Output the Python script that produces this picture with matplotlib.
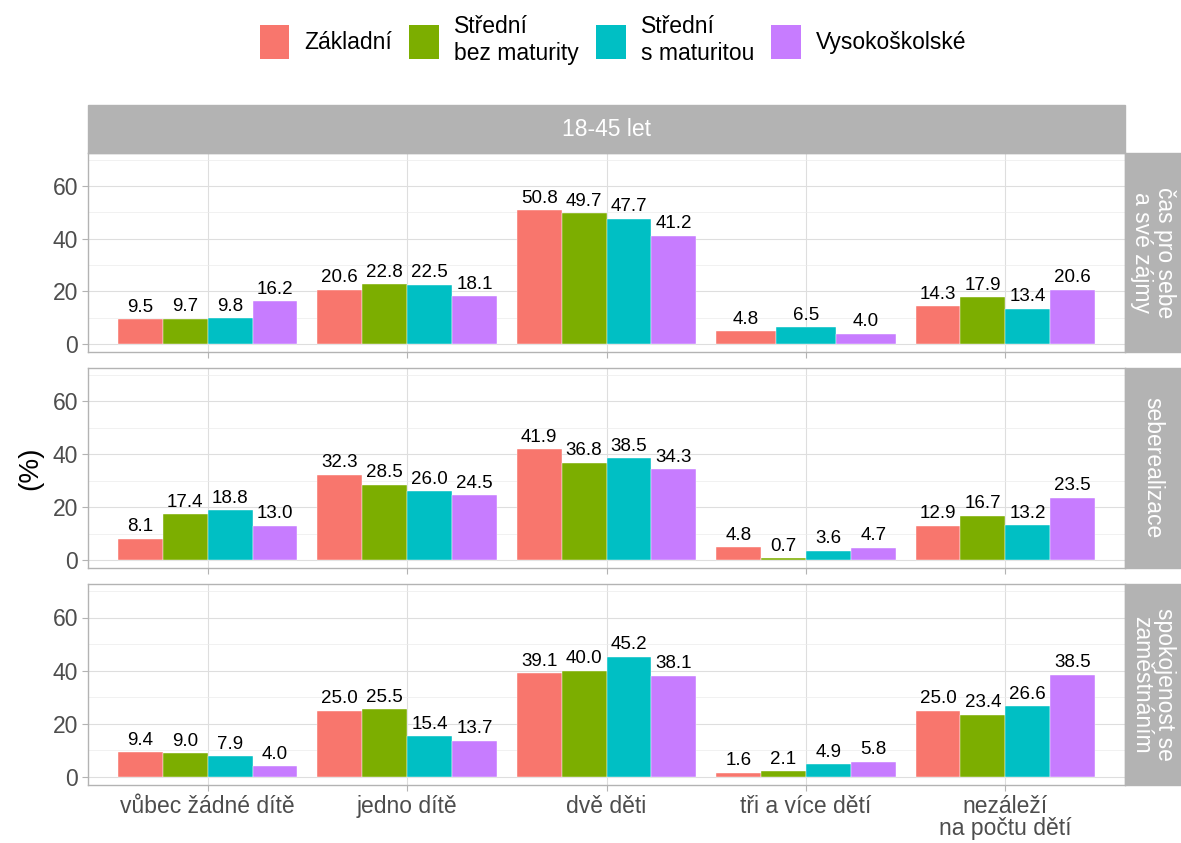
import numpy as np
import matplotlib.pyplot as plt
from matplotlib.patches import Patch, Rectangle

plt.rcParams['font.family'] = ['Liberation Sans', 'DejaVu Sans']

# === data ===
categories = ['vůbec žádné dítě', 'jedno dítě', 'dvě děti', 'tři a více dětí', 'nezáleží\nna počtu dětí']
education = ['Základní', 'Střední\nbez maturity', 'Střední\ns maturitou', 'Vysokoškolské']
colors = ['#F8766D', '#7CAE00', '#00BFC4', '#C77CFF']
facets = ['čas pro sebe\na své zájmy', 'seberealizace', 'spokojenost se\nzaměstnáním']

cas_pro_sebe = [
    [9.5, 9.7, 9.8, 16.2],
    [20.6, 22.8, 22.5, 18.1],
    [50.8, 49.7, 47.7, 41.2],
    [4.8, np.nan, 6.5, 4.0],
    [14.3, 17.9, 13.4, 20.6],
]
seberealizace = [
    [8.1, 17.4, 18.8, 13.0],
    [32.3, 28.5, 26.0, 24.5],
    [41.9, 36.8, 38.5, 34.3],
    [4.8, 0.7, 3.6, 4.7],
    [12.9, 16.7, 13.2, 23.5],
]
spokojenost = [
    [9.4, 9.0, 7.9, 4.0],
    [25.0, 25.5, 15.4, 13.7],
    [39.1, 40.0, 45.2, 38.1],
    [1.6, 2.1, 4.9, 5.8],
    [25.0, 23.4, 26.6, 38.5],
]
panels = [cas_pro_sebe, seberealizace, spokojenost]

W, H = 1181, 843
fig = plt.figure(figsize=(W / 100, H / 100), dpi=100)

left, right = 88 / W, 1125 / W
panel_px = [(153, 352), (368, 568), (584, 785)]
strip_w = 56 / W
group_w = 0.9

axes = []
for p, (top, bot) in enumerate(panel_px):
    ax = fig.add_axes([left, 1 - bot / H, right - left, (bot - top) / H])
    axes.append(ax)
    data = panels[p]
    for i, row in enumerate(data):
        present = [k for k, v in enumerate(row) if not np.isnan(v)]
        n = len(present)
        bw = group_w / n
        for j, k in enumerate(present):
            x = i - group_w / 2 + bw * (j + 0.5)
            ax.bar(x, row[k], width=bw, color=colors[k], edgecolor='white', linewidth=0.3, zorder=3)
            ax.annotate(f'{row[k]:.1f}', (x, row[k]), xytext=(0, 2.5), textcoords='offset points',
                        ha='center', va='bottom', fontsize=13.5, color='black', zorder=4)
    ax.set_xlim(-0.6, len(categories) - 0.4)
    ax.set_ylim(-3.0, 72.6)
    ax.set_yticks([0, 20, 40, 60])
    ax.set_yticks([10, 30, 50, 70], minor=True)
    ax.set_xticks(range(len(categories)))
    if p == 2:
        ax.set_xticklabels(categories, fontsize=16.5, color='#4D4D4D', linespacing=0.95)
    else:
        ax.set_xticklabels([])
    ax.tick_params(axis='y', labelsize=16.5, labelcolor='#4D4D4D', color='#B3B3B3', length=4, pad=3)
    ax.tick_params(axis='x', color='#B3B3B3', length=4, pad=3)
    ax.tick_params(which='minor', length=0)
    ax.grid(True, which='major', color='#DEDEDE', linewidth=0.8, zorder=0)
    ax.grid(True, which='minor', axis='y', color='#EBEBEB', linewidth=0.5, zorder=0)
    ax.set_axisbelow(True)
    for s in ax.spines.values():
        s.set_color('#B3B3B3')
        s.set_linewidth(1.0)
    # right strip
    fig.patches.append(Rectangle((right, 1 - bot / H), strip_w, (bot - top) / H,
                                 transform=fig.transFigure, color='#B3B3B3', zorder=0))
    fig.text(right + strip_w / 2, 1 - (top + bot) / 2 / H, facets[p], rotation=-90,
             ha='center', va='center', color='white', fontsize=16.5, linespacing=0.95)

# top strip
fig.patches.append(Rectangle((left, 1 - 153 / H), right - left, 48 / H,
                             transform=fig.transFigure, color='#B3B3B3', zorder=0))
fig.text((left + right) / 2, 1 - 129 / H, '18-45 let', ha='center', va='center',
         color='white', fontsize=16.5)

fig.text(30 / W, 1 - 468 / H, '(%)', rotation=90, ha='center', va='center', fontsize=20)

handles = [Patch(facecolor=c, edgecolor='none') for c in colors]
fig.legend(handles, education, loc='center', bbox_to_anchor=(0.519, 1 - 40 / H), ncol=4,
           frameon=False, fontsize=16.5, handlelength=1.3, handleheight=1.9,
           handletextpad=0.65, columnspacing=0.75, labelspacing=0.2)

plt.savefig('out.png', dpi=100)
